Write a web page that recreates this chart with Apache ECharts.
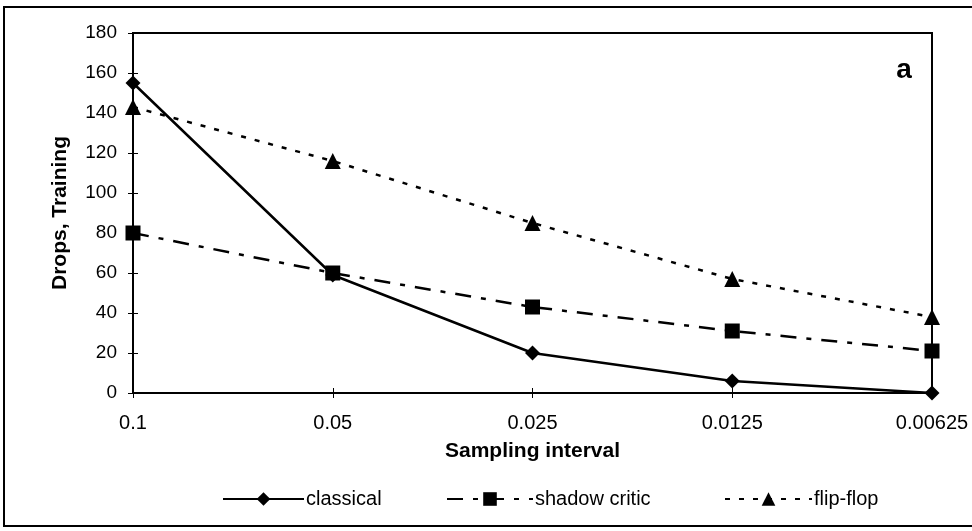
<!DOCTYPE html>
<html>
<head>
<meta charset="utf-8">
<script src="https://cdn.jsdelivr.net/npm/echarts@6/dist/echarts.min.js"></script>
<style>
  html, body { margin: 0; padding: 0; background: #fff; }
  #chart { width: 972px; height: 531px; }
</style>
</head>
<body>
<div id="chart"></div>
<script>
// Sampling intervals (x categories) and drop counts during training
var intervals = ['0.1', '0.05', '0.025', '0.0125', '0.00625'];
var classical = [155, 59, 20, 6, 0];
var shadowCritic = [80, 60, 43, 31, 21];
var flipFlop = [143, 116, 85, 57, 38];
var yTicks = { min: 0, max: 180, interval: 20 };

var FONT = '"Liberation Sans", Arial, Helvetica, sans-serif';
var chart = echarts.init(document.getElementById('chart'), null, { renderer: 'canvas' });

function legendAt(name, left, width) {
  return {
    data: [name],
    left: left,
    top: 484,
    itemWidth: width,
    itemHeight: 17,
    itemGap: 0,
    textStyle: { fontFamily: FONT, fontSize: 20, color: '#000', padding: [0, 0, 0, -3] },
    selectedMode: false
  };
}

var tickStyle = { color: '#000', width: 1 };

chart.setOption({
  animation: false,
  backgroundColor: '#fff',
  grid: { left: 133, right: 40, top: 33, bottom: 138, show: true, borderColor: '#000', borderWidth: 2 },
  legend: [
    legendAt('classical', 217, 81),
    legendAt('shadow critic', 441, 86),
    legendAt('flip-flop', 719, 87)
  ],
  xAxis: [
    {
      type: 'category',
      data: intervals,
      boundaryGap: false,
      name: 'Sampling interval',
      nameLocation: 'middle',
      nameGap: 48,
      nameTextStyle: { fontFamily: FONT, fontSize: 21, fontWeight: 'bold', color: '#000' },
      axisLine: { lineStyle: { color: '#000', width: 2 } },
      axisTick: { show: true, length: 5, lineStyle: tickStyle },
      axisLabel: { fontFamily: FONT, fontSize: 20, color: '#000', margin: 20 },
      splitLine: { show: false }
    },
    {
      // inner half of the crossing tick marks
      type: 'category',
      data: intervals,
      boundaryGap: false,
      position: 'bottom',
      axisLine: { show: false },
      axisTick: { show: true, inside: true, length: 5, lineStyle: tickStyle },
      axisLabel: { show: false },
      splitLine: { show: false }
    }
  ],
  yAxis: [
    {
      type: 'value',
      min: yTicks.min,
      max: yTicks.max,
      interval: yTicks.interval,
      name: 'Drops, Training',
      nameLocation: 'middle',
      nameGap: 62,
      nameTextStyle: { fontFamily: FONT, fontSize: 21, fontWeight: 'bold', color: '#000' },
      axisLine: { show: true, lineStyle: { color: '#000', width: 2 } },
      axisTick: { show: true, length: 5, lineStyle: tickStyle },
      axisLabel: { fontFamily: FONT, fontSize: 19, color: '#000', margin: 16 },
      splitLine: { show: false }
    },
    {
      type: 'value',
      min: yTicks.min,
      max: yTicks.max,
      interval: yTicks.interval,
      position: 'left',
      axisLine: { show: false },
      axisTick: { show: true, inside: true, length: 5, lineStyle: tickStyle },
      axisLabel: { show: false },
      splitLine: { show: false }
    }
  ],
  graphic: [
    {
      type: 'rect',
      shape: { x: 4, y: 7, width: 980, height: 519 },
      style: { fill: 'none', stroke: '#000', lineWidth: 2 },
      silent: true, z: 0
    },
    {
      type: 'text',
      x: 904, y: 70,
      style: {
        text: 'a', font: 'bold 28px ' + FONT, fill: '#000',
        textAlign: 'center', textVerticalAlign: 'middle'
      },
      z: 10
    }
  ],
  series: [
    {
      name: 'classical',
      type: 'line',
      data: classical,
      symbol: 'diamond',
      symbolSize: 15,
      itemStyle: { color: '#000' },
      lineStyle: { color: '#000', width: 2.5, type: 'solid' },
      z: 5
    },
    {
      name: 'shadow critic',
      type: 'line',
      data: shadowCritic,
      symbol: 'rect',
      symbolSize: 15,
      itemStyle: { color: '#000' },
      lineStyle: { color: '#000', width: 2.5, type: [16, 10, 5, 10] },
      z: 4
    },
    {
      name: 'flip-flop',
      type: 'line',
      data: flipFlop,
      symbol: 'triangle',
      symbolSize: 16,
      itemStyle: { color: '#000' },
      lineStyle: { color: '#000', width: 2.5, type: [5, 9] },
      z: 3
    }
  ]
});
</script>
</body>
</html>
